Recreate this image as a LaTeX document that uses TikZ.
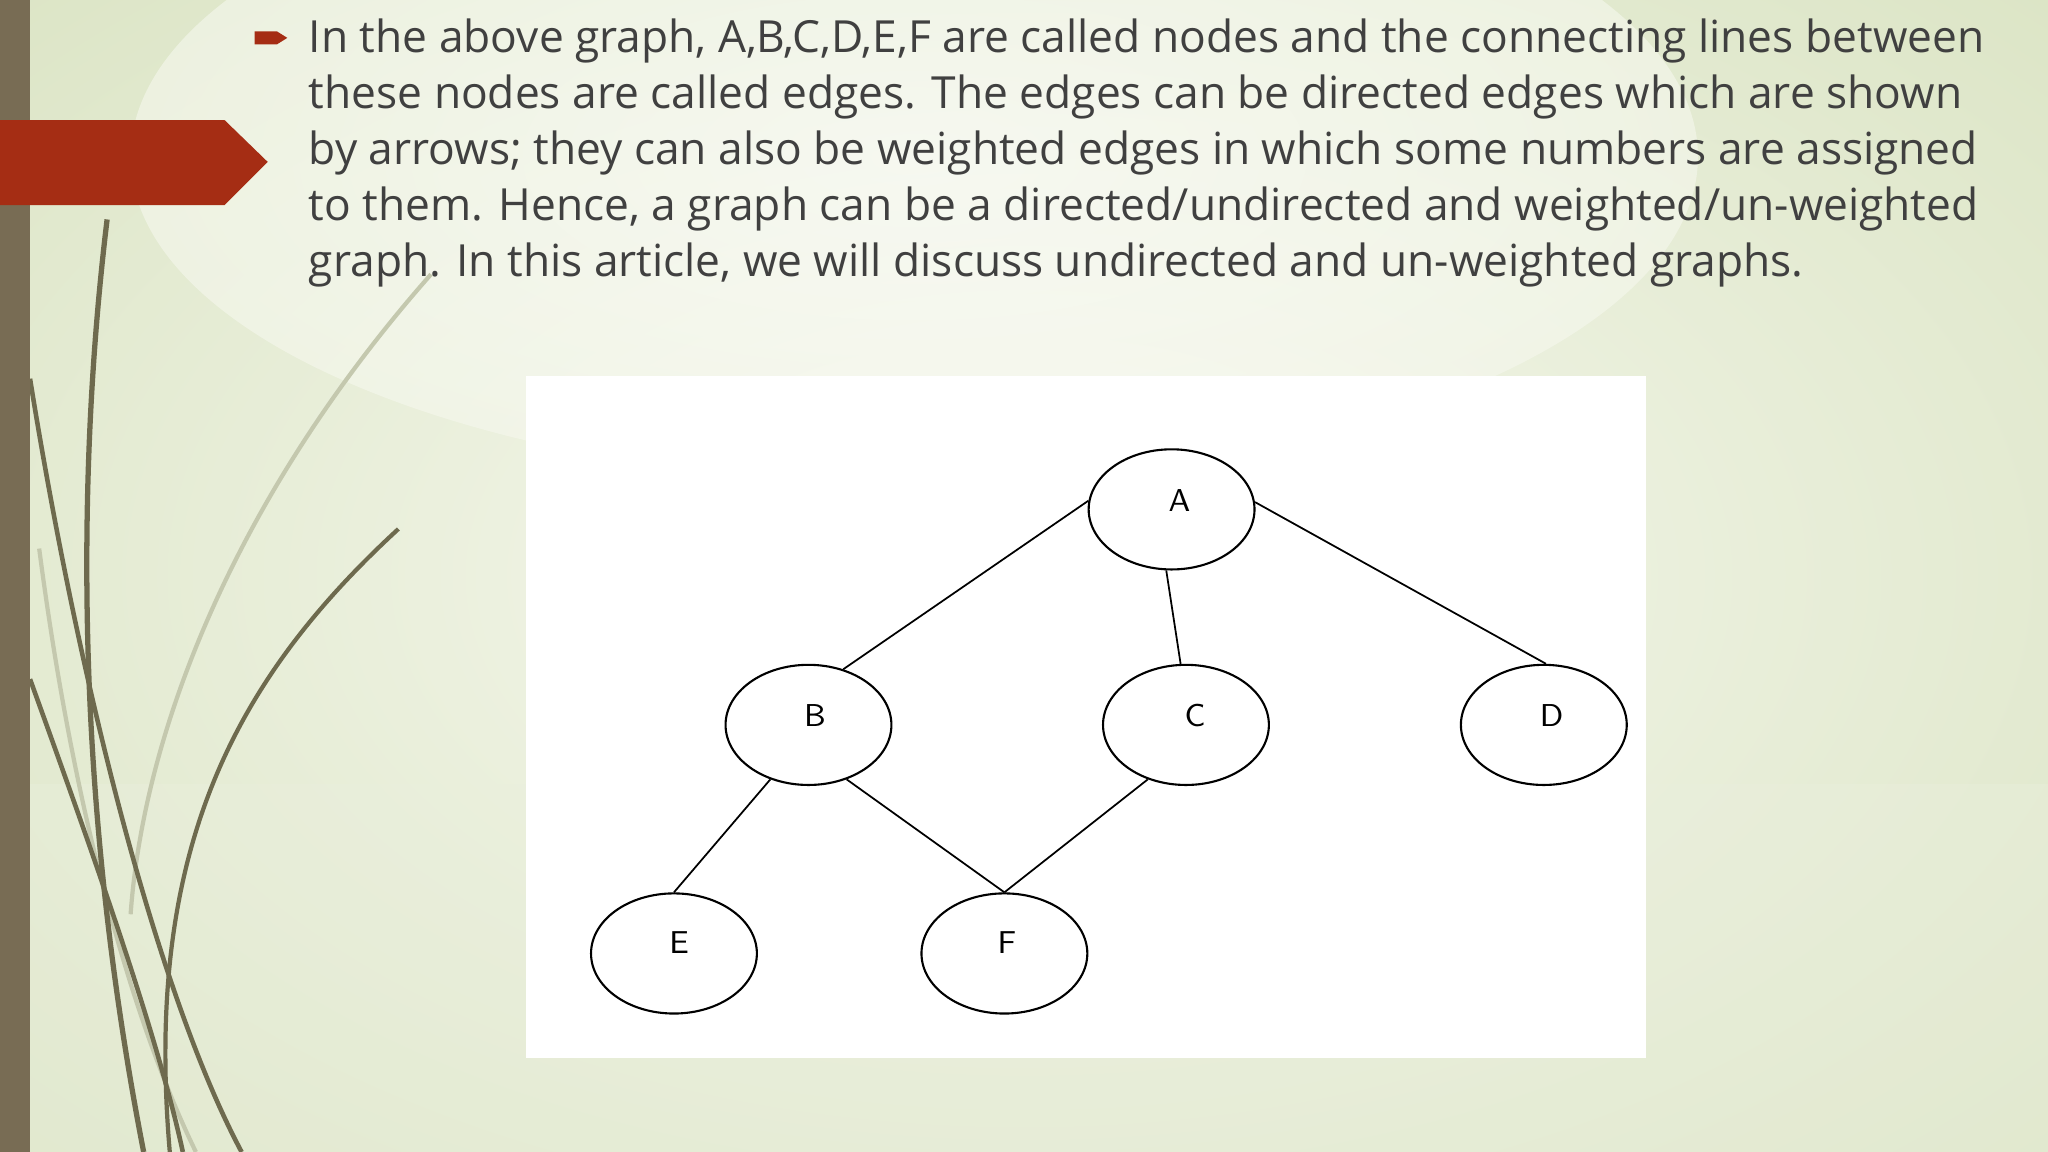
\documentclass[tikz,border=0pt]{standalone}
\usepackage{fontspec}
\setmainfont{Open Sans}
\usetikzlibrary{shapes.geometric}
\definecolor{bgA}{HTML}{F6F8EE}
\definecolor{bgB}{HTML}{DCE5C6}
\definecolor{barc}{HTML}{786C54}
\definecolor{redc}{HTML}{A52D14}
\definecolor{txt}{HTML}{404040}
\definecolor{grass}{HTML}{6E6A4E}
\definecolor{grassl}{HTML}{C4C8AE}
\newlength{\pxu}
\setlength{\pxu}{0.1306mm}
\tikzset{gnode/.style={ellipse,draw,line width=0.6pt,minimum width=127\pxu,minimum height=92\pxu,inner sep=0pt},
 glabel/.style={font=\sffamily\fontsize{9}{10}\selectfont},
 edge/.style={line width=0.5pt},
 para/.style={anchor=base west,inner sep=0pt,text=txt,font=\fontsize{12.6}{15}\selectfont}}
\begin{document}
\begin{tikzpicture}[x=0.01306cm,y=-0.01306cm]
\useasboundingbox (0,0) rectangle (1568,882);
\shade[outer color=bgB,inner color=bgA] (-300,-200) rectangle (1868,1082);
\fill[bgB!60,opacity=0.4] (0,600) rectangle (1568,882);
\shade[inner color=white,outer color=bgA,opacity=0.6] (700,120) ellipse (600 and 250);
% grass
\draw[grassl,line width=1.2pt] (30,420) .. controls (60,650) and (110,800) .. (150,882);
\draw[grassl,line width=1.2pt] (330,210) .. controls (180,380) and (110,560) .. (100,700);
\draw[grass,line width=1.5pt] (82,168) .. controls (60,350) and (55,600) .. (110,882);
\draw[grass,line width=1.3pt] (23,290) .. controls (60,520) and (120,760) .. (185,882);
\draw[grass,line width=1.3pt] (23,520) .. controls (70,650) and (120,790) .. (140,882);
\draw[grass,line width=1.2pt] (305,405) .. controls (180,520) and (110,650) .. (130,882);
\fill[barc] (0,0) rectangle (23,882);
\fill[redc] (0,92) -- (172,92) -- (205,124) -- (172,157) -- (0,157) -- cycle;
\fill[redc] (195,24) -- (212,24) -- (220,29) -- (212,34) -- (195,34) -- cycle;
\node[para] (l1) at (236,40) {In the above graph, A,B,C,D,E,F are called nodes and the connecting lines between};
\node[para] (l2) at (236,83) {these nodes are called edges. The edges can be directed edges which are shown};
\node[para] (l3) at (236,126) {by arrows; they can also be weighted edges in which some numbers are assigned};
\node[para] (l4) at (236,169) {to them. Hence, a graph can be a directed/undirected and weighted/un-weighted};
\node[para] (l5) at (236,212) {graph. In this article, we will discuss undirected and un-weighted graphs.};
\fill[white] (403,288) rectangle (1260,810);
\node[gnode] (A) at (897,390) {};
\node[gnode] (B) at (619,555) {};
\node[gnode] (C) at (908,555) {};
\node[gnode] (D) at (1182,555) {};
\node[gnode] (E) at (516,730) {};
\node[gnode] (F) at (769,730) {};
\node[glabel] (tA) at (903,383) {A};
\node[glabel] (tB) at (624,548) {B};
\node[glabel] (tC) at (915,548) {C};
\node[glabel] (tD) at (1188,548) {D};
\node[glabel] (tE) at (520,722) {E};
\node[glabel] (tF) at (771,722) {F};
\draw[edge] (A.174) -- (B.58);
\draw[edge] (A.265) -- (C.95);
\draw[edge] (A.5) -- (D.88);
\draw[edge] (B.235) -- (E.90);
\draw[edge] (B.-55) -- (F.90);
\draw[edge] (C.235) -- (F.90);
\end{tikzpicture}
\end{document}
